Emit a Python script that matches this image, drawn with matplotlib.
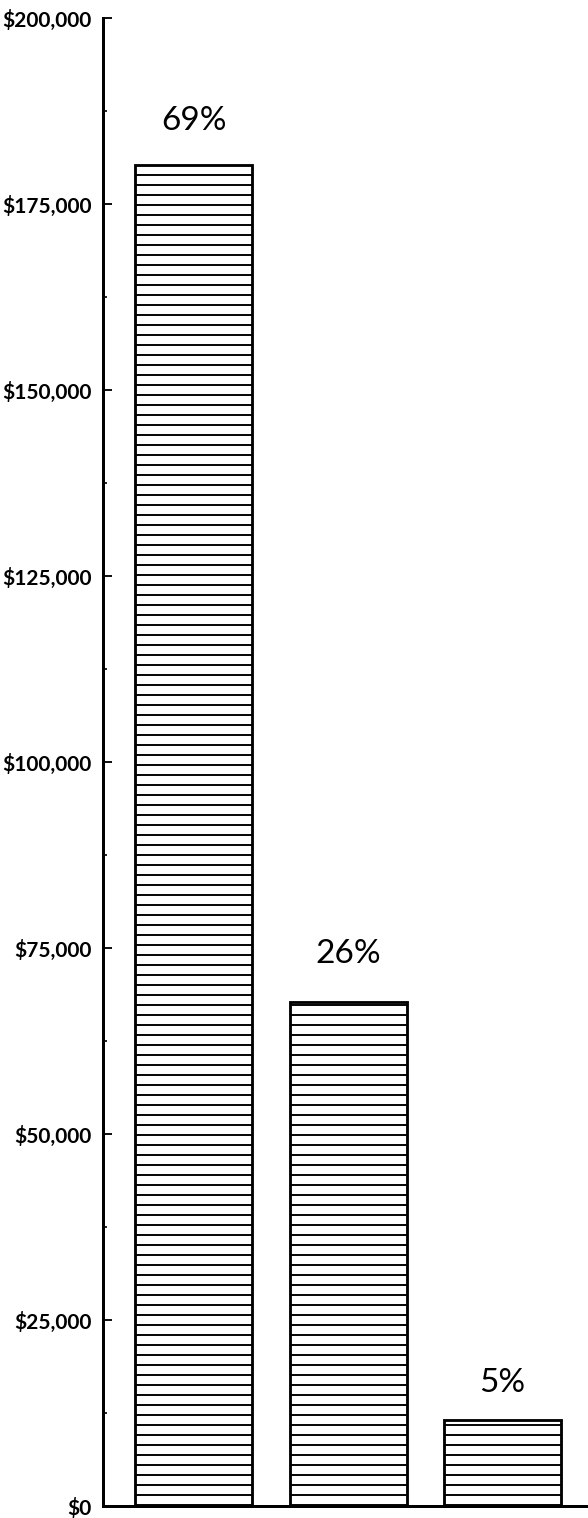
import matplotlib
matplotlib.use("Agg")
import matplotlib.pyplot as plt
from matplotlib.ticker import MultipleLocator, FuncFormatter

# Data
categories = ["A", "B", "C"]
values = [180200, 67700, 11600]
pct_labels = ["69%", "26%", "5%"]

DPI = 60
plt.rcParams['hatch.linewidth'] = 2.3
plt.rcParams['font.family'] = ['Lato', 'DejaVu Sans']

fig = plt.figure(figsize=(588 / DPI, 1518 / DPI), dpi=DPI)
ax = fig.add_axes([103 / 588, 12 / 1518, 1 - 103 / 588, 1488 / 1518])

x = list(range(len(categories)))
bars = ax.bar(x, values, width=0.757, color='white', edgecolor='black',
              linewidth=3.4, hatch='-', zorder=2)

ax.set_xlim(-0.586, 2.553)
ax.set_ylim(0, 200000)

for s in ['top', 'right']:
    ax.spines[s].set_visible(False)
for s in ['left', 'bottom']:
    ax.spines[s].set_linewidth(3.6)

ax.yaxis.set_major_locator(MultipleLocator(25000))
ax.yaxis.set_minor_locator(MultipleLocator(12500))
ax.yaxis.set_major_formatter(FuncFormatter(lambda v, p: "${:,.0f}".format(v)))
ax.tick_params(axis='y', which='major', direction='in', length=11, width=2.2,
               pad=14, labelsize=25)
ax.tick_params(axis='y', which='minor', direction='in', length=5, width=2)
for lab in ax.get_yticklabels():
    lab.set_fontweight('bold')
ax.set_xticks([])

offsets = [35, 39, 28]
for b, lab, off in zip(bars, pct_labels, offsets):
    ax.annotate(lab, (b.get_x() + b.get_width() / 2, b.get_height()),
                xytext=(0, off), textcoords='offset pixels',
                ha='center', va='baseline', fontsize=40)

fig.savefig("out.png", dpi=DPI)
